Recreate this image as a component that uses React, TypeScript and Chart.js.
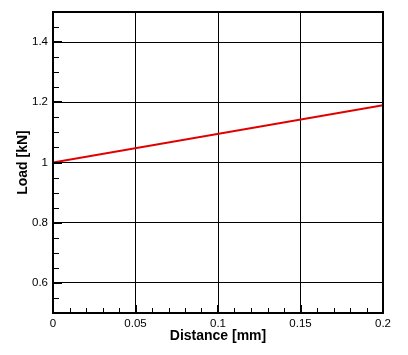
import React, { useEffect, useRef } from "react";
import { Chart, registerables } from "chart.js";

Chart.register(...registerables);

const DISTANCE = [0, 0.2];
const LOAD = [1.0, 1.19];
const X_TICKS = [0, 0.05, 0.1, 0.15, 0.2];
const X_LABELS = ["0", "0.05", "0.1", "0.15", "0.2"];
const Y_TICKS = [0.6, 0.8, 1.0, 1.2, 1.4];
const Y_LABELS = ["0.6", "0.8", "1", "1.2", "1.4"];
const X_MINOR_STEP = 0.01;
const Y_MINOR_STEP = 0.05;
const X_TITLE = "Distance [mm]";
const Y_TITLE = "Load [kN]";

const FONT = "'Liberation Sans', Arial, sans-serif";

const framePlugin = {
  id: "frameTicks",
  afterDatasetsDraw(chart: any) {
    const { ctx, chartArea, scales } = chart;
    const xs = scales.x;
    const ys = scales.y;
    ctx.save();
    ctx.strokeStyle = "#000";
    ctx.lineWidth = 1;
    const nx = Math.round((xs.max - xs.min) / X_MINOR_STEP);
    for (let i = 0; i <= nx; i++) {
      const v = xs.min + i * X_MINOR_STEP;
      const px = Math.round(xs.getPixelForValue(v)) + 0.5;
      ctx.beginPath();
      ctx.moveTo(px, chartArea.bottom);
      ctx.lineTo(px, chartArea.bottom - 5);
      ctx.stroke();
    }
    const ny = Math.round((ys.max - ys.min) / Y_MINOR_STEP);
    for (let i = 0; i <= ny; i++) {
      const v = ys.min + i * Y_MINOR_STEP;
      const py = Math.round(ys.getPixelForValue(v)) + 0.5;
      ctx.beginPath();
      ctx.moveTo(chartArea.left, py);
      ctx.lineTo(chartArea.left + 6, py);
      ctx.stroke();
    }
    ctx.lineWidth = 2;
    X_TICKS.forEach((v) => {
      const px = Math.round(xs.getPixelForValue(v));
      ctx.beginPath();
      ctx.moveTo(px, chartArea.bottom);
      ctx.lineTo(px, chartArea.bottom - 8);
      ctx.stroke();
    });
    Y_TICKS.forEach((v) => {
      const py = Math.round(ys.getPixelForValue(v));
      ctx.beginPath();
      ctx.moveTo(chartArea.left, py);
      ctx.lineTo(chartArea.left + 9, py);
      ctx.stroke();
    });
    ctx.lineWidth = 2;
    ctx.strokeRect(
      chartArea.left,
      chartArea.top,
      chartArea.right - chartArea.left,
      chartArea.bottom - chartArea.top
    );
    ctx.restore();
  },
};

export default function App() {
  const ref = useRef<HTMLCanvasElement>(null);
  useEffect(() => {
    if (!ref.current) return;
    const chart = new Chart(ref.current, {
      type: "line",
      data: {
        datasets: [
          {
            data: DISTANCE.map((x, i) => ({ x, y: LOAD[i] })),
            borderColor: "#e00000",
            borderWidth: 2,
            pointRadius: 0,
            fill: false,
          },
        ],
      },
      options: {
        responsive: false,
        animation: false,
        events: [],
        layout: { padding: { top: 12, right: 25, left: 0, bottom: 0 } },
        plugins: { legend: { display: false }, tooltip: { enabled: false } },
        scales: {
          x: {
            type: "linear",
            min: 0,
            max: 0.2,
            afterBuildTicks: (s: any) => {
              s.ticks = X_TICKS.map((value) => ({ value }));
            },
            afterFit: (s: any) => {
              s.height = 42;
            },
            ticks: {
              autoSkip: false,
              maxRotation: 0,
              padding: 4,
              color: "#000",
              font: { family: FONT, size: 11.5 },
              callback: (v: any) => {
                const i = X_TICKS.findIndex((t) => Math.abs(t - v) < 1e-9);
                return i >= 0 ? X_LABELS[i] : "";
              },
            },
            grid: { color: "#000", lineWidth: 1, drawTicks: false },
            border: { display: false },
            title: {
              display: true,
              text: X_TITLE,
              color: "#000",
              font: { family: FONT, size: 14, weight: "bold" },
              padding: { top: 0, bottom: 10 },
            },
          },
          y: {
            type: "linear",
            min: 0.5,
            max: 1.5,
            afterBuildTicks: (s: any) => {
              s.ticks = Y_TICKS.map((value) => ({ value }));
            },
            afterFit: (s: any) => {
              s.width = 53;
            },
            ticks: {
              autoSkip: false,
              padding: 5,
              color: "#000",
              font: { family: FONT, size: 11.5 },
              callback: (v: any) => {
                const i = Y_TICKS.findIndex((t) => Math.abs(t - v) < 1e-9);
                return i >= 0 ? Y_LABELS[i] : "";
              },
            },
            grid: { color: "#000", lineWidth: 1, drawTicks: false },
            border: { display: false },
            title: {
              display: true,
              text: Y_TITLE,
              color: "#000",
              font: { family: FONT, size: 14, weight: "bold" },
              padding: { top: 15, bottom: 0 },
            },
          },
        },
      },
      plugins: [framePlugin],
    } as any);
    return () => chart.destroy();
  }, []);
  return (
    <div style={{ position: "fixed", left: 0, top: 0, width: 408, height: 355, background: "#fff" }}>
      <canvas ref={ref} width={408} height={355} style={{ width: 408, height: 355 }} />
    </div>
  );
}
